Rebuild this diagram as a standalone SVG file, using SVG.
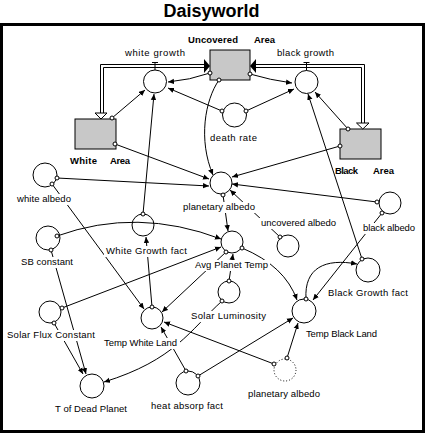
<svg xmlns="http://www.w3.org/2000/svg" width="427" height="434" viewBox="0 0 427 434">
<style>
text{font-family:"Liberation Sans",Arial,sans-serif;font-size:9.5px;fill:#000}
.b{font-weight:bold}
.t{font-size:18px;font-weight:bold}
.aux{fill:#fff;stroke:#000;stroke-width:1}
.ghost{fill:none;stroke:#000;stroke-width:1;stroke-dasharray:1 2}
.stock{fill:#c8c8c8;stroke:#000;stroke-width:1}
.c{fill:none;stroke:#000;stroke-width:1;marker-start:url(#o);marker-end:url(#a)}
.p{fill:none;stroke:#000;stroke-width:1}
</style>
<defs>
<marker id="a" markerWidth="7" markerHeight="6" refX="6" refY="3" orient="auto" markerUnits="userSpaceOnUse"><path d="M0,0.3 L6,3 L0,5.7 z" fill="#000"/></marker>
<marker id="o" markerWidth="6" markerHeight="6" refX="3" refY="3" markerUnits="userSpaceOnUse"><circle cx="3" cy="3" r="2" fill="#fff" stroke="#000" stroke-width="1"/></marker>
<mask id="m" maskUnits="userSpaceOnUse" x="0" y="0" width="427" height="434">
<rect x="0" y="0" width="427" height="434" fill="#fff"/>
<rect x="16" y="194" width="57" height="11" fill="#000"/>
<rect x="182" y="202" width="75" height="11" fill="#000"/>
<rect x="259" y="218" width="79" height="11" fill="#000"/>
<rect x="361" y="223" width="56" height="11" fill="#000"/>
<rect x="19" y="257" width="56" height="11" fill="#000"/>
<rect x="104" y="246" width="85" height="11" fill="#000"/>
<rect x="193" y="260" width="77" height="11" fill="#000"/>
<rect x="189" y="311" width="79" height="11" fill="#000"/>
<rect x="5" y="330" width="92" height="11" fill="#000"/>
<rect x="102" y="338" width="78" height="11" fill="#000"/>
</mask>
</defs>
<rect x="0" y="0" width="427" height="434" fill="#fff"/>
<text class="t" x="211.5" y="17" text-anchor="middle">Daisyworld</text>
<rect x="1.5" y="24.5" width="422" height="407" fill="none" stroke="#000" stroke-width="3"/>

<g id="uncovered_area">
<rect class="stock" x="210" y="50" width="40" height="30"/>
<text class="b" x="188" y="43" textLength="50" lengthAdjust="spacing">Uncovered</text>
<text class="b" x="254" y="43" textLength="21" lengthAdjust="spacing">Area</text>
</g>
<g id="white_area">
<rect class="stock" x="75" y="119" width="41" height="30"/>
<text class="b" x="70" y="164" textLength="27" lengthAdjust="spacing">White</text>
<text class="b" x="110" y="164" textLength="20" lengthAdjust="spacing">Area</text>
</g>
<g id="black_area">
<rect class="stock" x="340" y="129" width="41" height="30"/>
<text class="b" x="335" y="174" textLength="23" lengthAdjust="spacing">Black</text>
<text class="b" x="373" y="174" textLength="21" lengthAdjust="spacing">Area</text>
</g>
<g id="white_growth">
<circle class="aux" cx="155" cy="81.5" r="11.5"/>
<path class="p" d="M152,62.5 H158 M155,62.5 V70"/>
<text x="125" y="56" textLength="60" lengthAdjust="spacing">white growth</text>
</g>
<g id="black_growth">
<circle class="aux" cx="306.5" cy="82" r="11.5"/>
<path class="p" d="M303.5,62.5 H309.5 M306.5,62.5 V70.5"/>
<text x="277" y="56" textLength="57" lengthAdjust="spacing">black growth</text>
</g>
<g id="death_rate">
<circle class="aux" cx="234.5" cy="115" r="12"/>
<text x="210" y="141" textLength="47" lengthAdjust="spacing">death rate</text>
</g>
<g id="white_albedo">
<circle class="aux" cx="45" cy="175" r="12"/>
<text x="17" y="202" textLength="54" lengthAdjust="spacing">white albedo</text>
</g>
<g id="planetary_albedo">
<circle class="aux" cx="221" cy="183" r="11"/>
<text x="183" y="210" textLength="72" lengthAdjust="spacing">planetary albedo</text>
</g>
<g id="uncovered_albedo">
<circle class="aux" cx="288" cy="246" r="11"/>
<text x="261" y="226" textLength="75" lengthAdjust="spacing">uncovered albedo</text>
</g>
<g id="black_albedo">
<circle class="aux" cx="390" cy="203" r="11"/>
<text x="363" y="231" textLength="52" lengthAdjust="spacing">black albedo</text>
</g>
<g id="sb_constant">
<circle class="aux" cx="48" cy="238" r="12"/>
<text x="21" y="265" textLength="52" lengthAdjust="spacing">SB constant</text>
</g>
<g id="white_growth_fact">
<circle class="aux" cx="143" cy="225" r="11"/>
<text x="106" y="254" textLength="81" lengthAdjust="spacing">White Growth fact</text>
</g>
<g id="avg_planet_temp">
<circle class="aux" cx="232" cy="242" r="11"/>
<text x="195" y="268" textLength="73" lengthAdjust="spacing">Avg Planet Temp</text>
</g>
<g id="black_growth_fact">
<circle class="aux" cx="368" cy="270" r="12"/>
<text x="328" y="296" textLength="80" lengthAdjust="spacing">Black Growth fact</text>
</g>
<g id="solar_luminosity">
<circle class="aux" cx="229" cy="292" r="11"/>
<text x="191" y="319" textLength="75" lengthAdjust="spacing">Solar Luminosity</text>
</g>
<g id="solar_flux_constant">
<circle class="aux" cx="50" cy="312" r="11"/>
<text x="7" y="338" textLength="88" lengthAdjust="spacing">Solar Flux Constant</text>
</g>
<g id="temp_white_land">
<circle class="aux" cx="152" cy="318" r="11"/>
<text x="104" y="346" textLength="73" lengthAdjust="spacing">Temp White Land</text>
</g>
<g id="temp_black_land">
<circle class="aux" cx="304" cy="311" r="12"/>
<text x="306" y="337" textLength="71" lengthAdjust="spacing">Temp Black Land</text>
</g>
<g id="t_of_dead_planet">
<circle class="aux" cx="92" cy="386" r="12"/>
<text x="55" y="412" textLength="72" lengthAdjust="spacing">T of Dead Planet</text>
</g>
<g id="heat_absorp_fact">
<circle class="aux" cx="188" cy="383" r="12"/>
<text x="151" y="409" textLength="72" lengthAdjust="spacing">heat absorp fact</text>
</g>
<g id="planetary_albedo_ghost">
<circle class="ghost" cx="285" cy="370" r="11"/>
<text x="248" y="397" textLength="72" lengthAdjust="spacing">planetary albedo</text>
</g>

<g id="flows">
<path class="p" d="M100.5,113 V64.5 H205 M103.5,113 V67.5 H205"/>
<path d="M95,113 H107 L101,119 z" fill="#fff" stroke="#000" stroke-width="1"/>
<path d="M204,59 L210,66 L204,73 z" fill="#000"/>
<path class="p" d="M256,64.5 H364.5 V123 M256,67.5 H361.5 V123"/>
<path d="M356.5,123 H369 L362.8,129 z" fill="#fff" stroke="#000" stroke-width="1"/>
<path d="M256,59 L250,66 L256,73 z" fill="#000"/>
</g>

<g id="connectors" mask="url(#m)">
<path class="c" d="M210,73 Q190,80 168,82"/>
<path class="c" d="M250,74 Q270,80 292,83"/>
<path class="c" d="M219,80 C205,100 198,140 213,175"/>
<path class="c" d="M222,111 L168,88"/>
<path class="c" d="M246,111 L294,89"/>
<path class="c" d="M112,118 L145,90"/>
<path class="c" d="M115,144 L209,179"/>
<path class="c" d="M57,178 L209,186"/>
<path class="c" d="M348,129 L315,92"/>
<path class="c" d="M340,146 L232,177"/>
<path class="c" d="M377,202 L232,184"/>
<path class="c" d="M280,237 L230,190"/>
<path class="c" d="M223,195 L228,231"/>
<path class="c" d="M143,214 L154,94"/>
<path class="c" d="M152,307 L146,237"/>
<path class="c" d="M57,236 Q137,207 221,239"/>
<path class="c" d="M51,250 L86,374"/>
<path class="c" d="M62,308 L221,247"/>
<path class="c" d="M54,323 L83,374"/>
<path class="c" d="M52,184 L144,309"/>
<path class="c" d="M226,252 L162,312"/>
<path class="c" d="M242,248 Q285,266 297,300"/>
<path class="c" d="M229,281 L233,254"/>
<path class="c" d="M222,301 C190,330 175,360 104,382"/>
<path class="c" d="M274,364 L164,322"/>
<path class="c" d="M186,371 L161,327"/>
<path class="c" d="M198,376 L293,318"/>
<path class="c" d="M287,358 L298,323"/>
<path class="c" d="M382,213 L313,300"/>
<path class="c" d="M306,299 C304,268 325,258 357,264"/>
<path class="c" d="M362,259 L308,94"/>
</g>
</svg>
